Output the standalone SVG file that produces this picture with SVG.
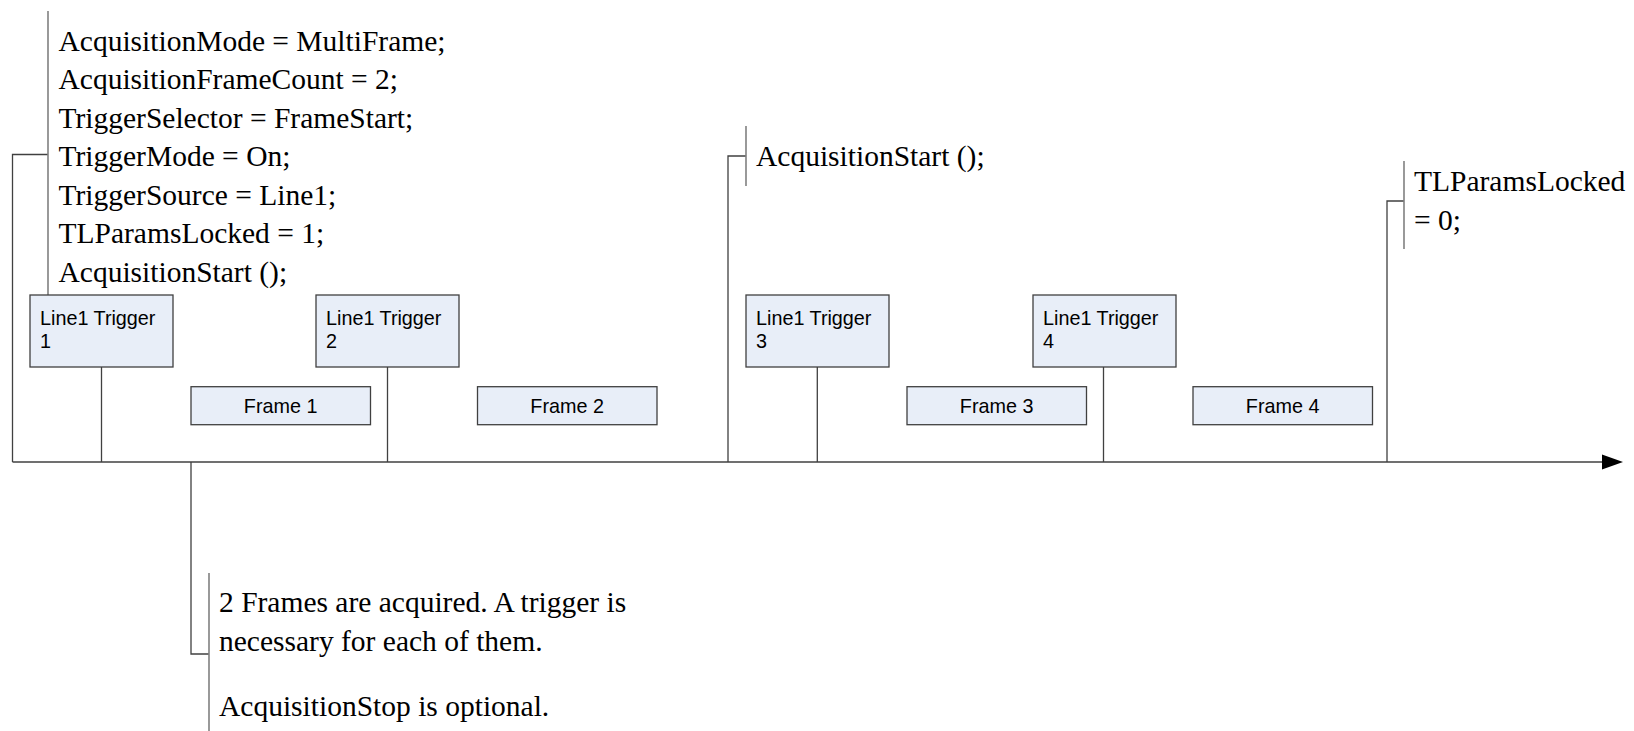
<svg xmlns="http://www.w3.org/2000/svg" width="1634" height="731" viewBox="0 0 1634 731">
<style>
.bg{fill:#ffffff}
.box{fill:#E8EEF8;stroke:#404040;stroke-width:1.3}
.conn{fill:none;stroke:#404040;stroke-width:1.3}
.brk{fill:none;stroke:#808080;stroke-width:1.6}
.lbl{font-family:"Liberation Sans",Arial,sans-serif;font-size:19.8px;fill:#000}
.note{font-family:"Liberation Serif","Times New Roman",serif;font-size:29.5px;fill:#000}
</style>
<rect class="bg" x="0" y="0" width="1634" height="731"/>
<g id="connectors">
<path class="conn" d="M12.5,462 H1603"/>
<polygon points="1602,454.5 1623,462 1602,469.5" fill="#000"/>
<path class="conn" d="M48,154.5 H12.5 V462"/>
<path class="conn" d="M728,462 V156 H746"/>
<path class="conn" d="M1387,462 V201 H1404"/>
<path class="conn" d="M191,462 V654 H209"/>
<path class="conn" d="M101.5,367 V462"/>
<path class="conn" d="M387.5,367 V462"/>
<path class="conn" d="M817.3,367 V462"/>
<path class="conn" d="M1103.5,367 V462"/>
</g>
<g id="note-setup">
<path class="brk" d="M48,11 V295"/>
<text class="note" x="58.5" y="50.5">AcquisitionMode = MultiFrame;</text>
<text class="note" x="58.5" y="89">AcquisitionFrameCount = 2;</text>
<text class="note" x="58.5" y="127.5">TriggerSelector = FrameStart;</text>
<text class="note" x="58.5" y="166">TriggerMode = On;</text>
<text class="note" x="58.5" y="204.5">TriggerSource = Line1;</text>
<text class="note" x="58.5" y="243">TLParamsLocked = 1;</text>
<text class="note" x="58.5" y="281.5">AcquisitionStart ();</text>
</g>
<g id="note-start2">
<path class="brk" d="M746,126 V186"/>
<text class="note" x="756" y="166">AcquisitionStart ();</text>
</g>
<g id="note-unlock">
<path class="brk" d="M1404,161 V249"/>
<text class="note" x="1414" y="191">TLParamsLocked</text>
<text class="note" x="1414" y="229.5">= 0;</text>
</g>
<g id="note-frames">
<path class="brk" d="M209,573 V731"/>
<text class="note" x="219" y="612.3">2 Frames are acquired. A trigger is</text>
<text class="note" x="219" y="650.7">necessary for each of them.</text>
<text class="note" x="219" y="715.7">AcquisitionStop is optional.</text>
</g>
<g id="trigger1">
<rect class="box" x="30" y="295" width="143" height="72"/>
<text class="lbl" x="40" y="325">Line1 Trigger</text>
<text class="lbl" x="40" y="348">1</text>
</g>
<g id="trigger2">
<rect class="box" x="316" y="295" width="143" height="72"/>
<text class="lbl" x="326" y="325">Line1 Trigger</text>
<text class="lbl" x="326" y="348">2</text>
</g>
<g id="trigger3">
<rect class="box" x="746" y="295" width="143" height="72"/>
<text class="lbl" x="756" y="325">Line1 Trigger</text>
<text class="lbl" x="756" y="348">3</text>
</g>
<g id="trigger4">
<rect class="box" x="1033" y="295" width="143" height="72"/>
<text class="lbl" x="1043" y="325">Line1 Trigger</text>
<text class="lbl" x="1043" y="348">4</text>
</g>
<g id="frame1">
<rect class="box" x="191" y="386.7" width="179.5" height="38"/>
<text class="lbl" x="280.7" y="412.5" text-anchor="middle">Frame 1</text>
</g>
<g id="frame2">
<rect class="box" x="477.5" y="386.7" width="179.5" height="38"/>
<text class="lbl" x="567.2" y="412.5" text-anchor="middle">Frame 2</text>
</g>
<g id="frame3">
<rect class="box" x="907" y="386.7" width="179.5" height="38"/>
<text class="lbl" x="996.7" y="412.5" text-anchor="middle">Frame 3</text>
</g>
<g id="frame4">
<rect class="box" x="1193" y="386.7" width="179.5" height="38"/>
<text class="lbl" x="1282.7" y="412.5" text-anchor="middle">Frame 4</text>
</g>
</svg>
